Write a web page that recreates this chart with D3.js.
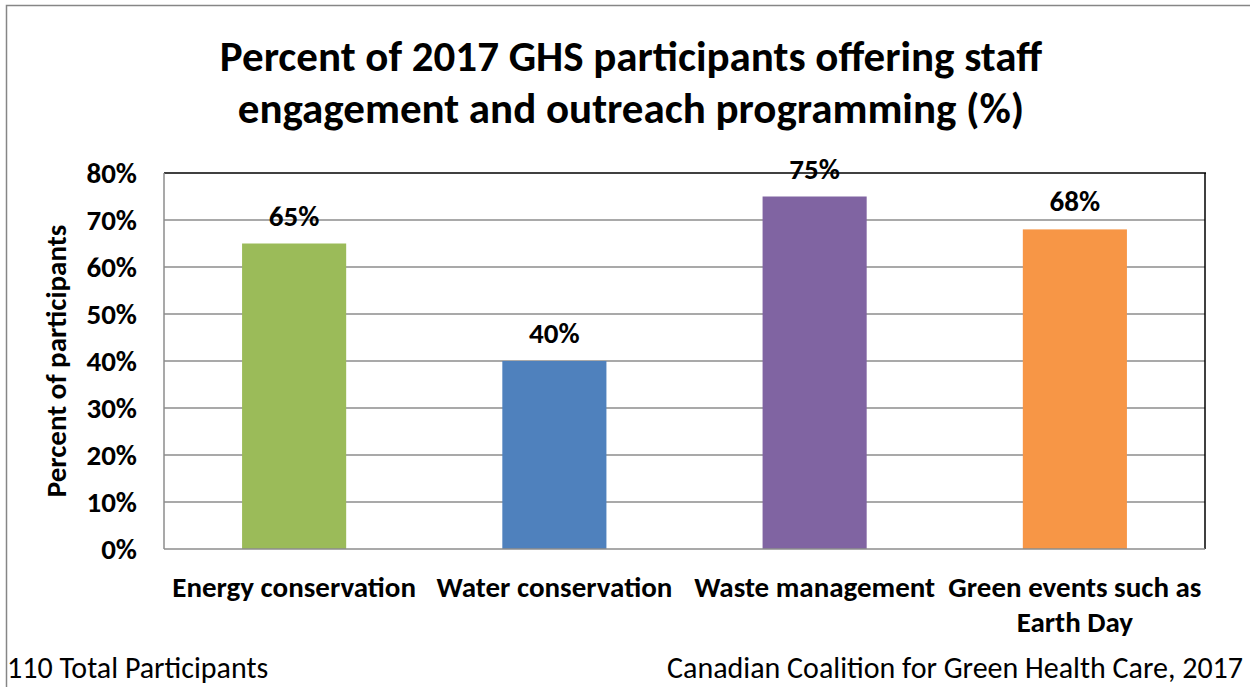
<!DOCTYPE html>
<html>
<head>
<meta charset="utf-8">
<script src="https://cdn.jsdelivr.net/npm/d3@7"></script>
<style>
  html, body { margin: 0; padding: 0; background: #fff; }
  svg { display: block; font-family: Carlito, Calibri, Lato, sans-serif; }
</style>
</head>
<body>
<svg id="chart" width="1250" height="687"></svg>
<script>
// Survey results: share of participants offering each programme
const categories = ["Energy conservation", "Water conservation", "Waste management", "Green events such as|Earth Day"];
const values = [0.65, 0.40, 0.75, 0.68];
const barColors = ["#9BBB59", "#4F81BD", "#8064A2", "#F79646"];
const yTicks = [0, 0.1, 0.2, 0.3, 0.4, 0.5, 0.6, 0.7, 0.8];
const titleLines = ["Percent of 2017 GHS participants offering staff", "engagement and outreach programming (%)"];
const yAxisTitle = "Percent of participants";
const footLeft = "110 Total Participants";
const footRight = "Canadian Coalition for Green Health Care, 2017";

const FONT = "Carlito, Calibri, Lato, sans-serif";
const svg = d3.select("#chart");
const W = 1250, H = 687;
const plot = { left: 164, right: 1205, top: 173, bottom: 549 };

// outer chart frame
svg.append("rect")
  .attr("x", 6.5).attr("y", 5.5)
  .attr("width", W + 10).attr("height", H + 10)
  .attr("fill", "#fff").attr("stroke", "#868686").attr("stroke-width", 1.5);

// title
svg.append("g").selectAll("text").data(titleLines).join("text")
  .attr("x", 631).attr("y", (d, i) => 71 + i * 52)
  .attr("text-anchor", "middle")
  .attr("font-weight", "bold").attr("font-size", 43)
  .attr("fill", "#000")
  .text(d => d);

const x = d3.scaleBand()
  .domain(categories)
  .range([plot.left, plot.right])
  .paddingInner(0.6).paddingOuter(0.3);

const y = d3.scaleLinear().domain([0, 0.8]).range([plot.bottom, plot.top]);

// horizontal gridlines
svg.append("g").selectAll("line").data(yTicks.filter(t => t > 0 && t < 0.8)).join("line")
  .attr("x1", plot.left).attr("x2", plot.right)
  .attr("y1", d => y(d)).attr("y2", d => y(d))
  .attr("stroke", "#8c8c8c").attr("stroke-width", 1.5);

// plot-area border: black top/right, grey axes left/bottom
svg.append("line").attr("x1", plot.left).attr("x2", plot.right + 1)
  .attr("y1", y(0.8)).attr("y2", y(0.8)).attr("stroke", "#000").attr("stroke-width", 1.5);
svg.append("line").attr("x1", plot.right).attr("x2", plot.right)
  .attr("y1", y(0.8)).attr("y2", plot.bottom).attr("stroke", "#000").attr("stroke-width", 1.5);

// bars
svg.append("g").selectAll("rect").data(values).join("rect")
  .attr("x", (d, i) => x(categories[i]))
  .attr("width", x.bandwidth())
  .attr("y", d => y(d))
  .attr("height", d => y(0) - y(d))
  .attr("fill", (d, i) => barColors[i]);

// axes
svg.append("line").attr("x1", plot.left).attr("x2", plot.left)
  .attr("y1", plot.top).attr("y2", plot.bottom).attr("stroke", "#8c8c8c").attr("stroke-width", 1.5);
svg.append("line").attr("x1", plot.left).attr("x2", plot.right)
  .attr("y1", plot.bottom).attr("y2", plot.bottom).attr("stroke", "#8c8c8c").attr("stroke-width", 1.5);

// y tick labels
const yAxis = d3.axisLeft(y).tickValues(yTicks).tickFormat(d3.format(".0%")).tickSize(0).tickPadding(27);
const yg = svg.append("g").attr("transform", `translate(${plot.left},0)`).call(yAxis);
yg.select(".domain").remove();
yg.selectAll("text")
  .attr("font-family", FONT)
  .attr("font-size", 29).attr("font-weight", "bold").attr("fill", "#000");

// value labels
svg.append("g").selectAll("text").data(values).join("text")
  .attr("x", (d, i) => x(categories[i]) + x.bandwidth() / 2)
  .attr("y", d => y(d) - 18)
  .attr("text-anchor", "middle")
  .attr("font-size", 29).attr("font-weight", "bold").attr("fill", "#000")
  .text(d => d3.format(".0%")(d));

// category labels
const xAxis = d3.axisBottom(x).tickSize(0).tickFormat("");
const xg = svg.append("g").attr("transform", `translate(0,${plot.bottom})`).call(xAxis);
xg.select(".domain").remove();
xg.selectAll(".tick").each(function (d) {
  const lines = d.split("|");
  d3.select(this).selectAll("text.cat").data(lines).join("text")
    .attr("class", "cat")
    .attr("y", (l, i) => 48 + i * 35)
    .attr("text-anchor", "middle")
    .attr("font-family", FONT)
    .attr("font-size", 29).attr("font-weight", "bold").attr("fill", "#000")
    .text(l => l);
});

// y axis title
svg.append("text")
  .attr("transform", `translate(66,${(plot.top + plot.bottom) / 2}) rotate(-90)`)
  .attr("text-anchor", "middle")
  .attr("font-size", 29).attr("font-weight", "bold").attr("fill", "#000")
  .text(yAxisTitle);

// footer notes
svg.append("text").attr("x", 7).attr("y", 678)
  .attr("font-size", 30).attr("fill", "#000").text(footLeft);
svg.append("text").attr("x", 1243).attr("y", 678)
  .attr("text-anchor", "end")
  .attr("font-size", 30).attr("fill", "#000").text(footRight);
</script>
</body>
</html>
